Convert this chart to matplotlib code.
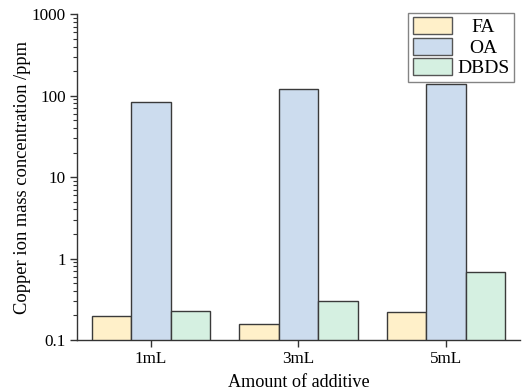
import matplotlib
matplotlib.use("Agg")
import matplotlib.pyplot as plt
import numpy as np
from matplotlib.ticker import LogLocator, FixedFormatter, NullFormatter

categories = ["1mL", "3mL", "5mL"]
series_names = ["FA", "OA", "DBDS"]
fa = [0.197, 0.156, 0.219]
oa = [82.6, 119, 137]
dbds = [0.229, 0.301, 0.677]
colors = ["#FFF0C9", "#CCDCEE", "#D5F0E1"]
ytick_vals = [0.1, 1, 10, 100, 1000]
ytick_labels = ["0.1", "1", "10", "100", "1000"]

plt.rcParams['font.family'] = ['Liberation Serif', 'DejaVu Serif']

fig = plt.figure(figsize=(5.22, 3.91), dpi=100)
ax = fig.add_axes([0.1475, 0.1304, 0.8485, 0.8336])

x = np.arange(len(categories))
w = 0.2667
for i, (vals, name, c) in enumerate(zip([fa, oa, dbds], series_names, colors)):
    ax.bar(x + (i - 1) * w, vals, width=w, color=c, edgecolor="#3a3a3a",
           linewidth=1.0, label=name)

ax.set_yscale("log")
ax.set_ylim(0.1, 1000)
ax.set_xlim(-0.5, 2.5)
ax.set_yticks(ytick_vals)
ax.yaxis.set_major_formatter(FixedFormatter(ytick_labels))
ax.yaxis.set_minor_locator(LogLocator(base=10, subs=np.arange(2, 10), numticks=20))
ax.yaxis.set_minor_formatter(NullFormatter())
ax.set_xticks(x)
ax.set_xticklabels(categories)

for s in ["top", "right"]:
    ax.spines[s].set_visible(False)
for s in ["left", "bottom"]:
    ax.spines[s].set_color("#333333")
    ax.spines[s].set_linewidth(1.0)

ax.tick_params(axis="both", which="major", direction="out", length=5, width=1,
               color="#333333", labelsize=12.3, pad=3)
ax.tick_params(axis="y", which="minor", direction="out", length=3, width=0.8, color="#333333")

ax.set_ylabel("Copper ion mass concentration /ppm", fontsize=13.3, labelpad=0.5)
ax.set_xlabel("Amount of additive", fontsize=13.1, labelpad=5)

leg = ax.legend(loc="upper right", bbox_to_anchor=(0.9847, 0.9675),
                bbox_transform=fig.transFigure, fontsize=14,
                frameon=True, fancybox=False, edgecolor="#666666",
                handlelength=2.0, handleheight=1.0, labelspacing=0.06,
                borderpad=0.22, handletextpad=0.3, borderaxespad=0.0)
leg.get_frame().set_linewidth(1.0)
for p in leg.get_patches():
    p.set_edgecolor("#555555")

fig.canvas.draw()
r = fig.canvas.get_renderer()
texts = leg.get_texts()
widths = [t.get_window_extent(r).width for t in texts]
mw = max(widths)
for t, wd in zip(texts, widths):
    t.set_x((mw - wd) / 2.0)

fig.savefig("out.png", dpi=100)
